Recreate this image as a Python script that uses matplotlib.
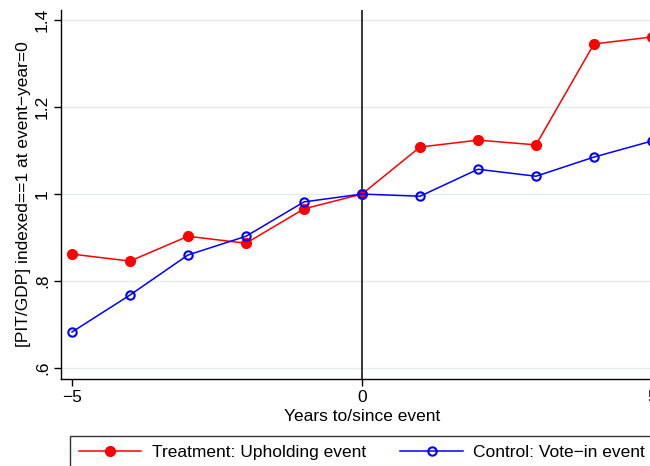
import matplotlib
matplotlib.use("Agg")
import matplotlib.pyplot as plt
from matplotlib.ticker import FixedLocator

years = [-5, -4, -3, -2, -1, 0, 1, 2, 3, 4, 5]
treatment = [0.862, 0.846, 0.903, 0.887, 0.966, 1.0, 1.108, 1.124, 1.113, 1.345, 1.361]
control = [0.683, 0.768, 0.860, 0.903, 0.982, 1.0, 0.995, 1.057, 1.041, 1.085, 1.122]
y_ticks = [0.6, 0.8, 1.0, 1.2, 1.4]
y_tick_labels = [".6", ".8", "1", "1.2", "1.4"]
x_ticks = [-5, 0, 5]

plt.rcParams["font.family"] = ["Liberation Sans", "DejaVu Sans"]
FS = 12.5

fig = plt.figure(figsize=(6.5, 4.66), dpi=100)
ax = fig.add_axes([61 / 650, 87 / 466, 602 / 650, 369 / 466])

for y in y_ticks:
    ax.axhline(y, color="#e3ecef", lw=1.0, zorder=0)
ax.axvline(0, color="black", lw=1.1, zorder=1)

ax.plot(years, treatment, color="red", lw=1.1, marker="o", markersize=7,
        markerfacecolor="red", markeredgecolor="red", label="Treatment: Upholding event",
        clip_on=False, zorder=3)
ax.plot(years, control, color="blue", lw=1.1, marker="o", markersize=6,
        markerfacecolor="none", markeredgecolor="blue", markeredgewidth=1.5,
        label="Control: Vote\u2212in event", clip_on=False, zorder=3)

ax.set_xlim(-5.19, 5.19)
ax.set_ylim(0.575, 1.423)
ax.xaxis.set_major_locator(FixedLocator(x_ticks))
ax.set_xticklabels(["\u22125", "0", "5"])
ax.set_yticks(y_ticks)
ax.set_yticklabels(y_tick_labels, rotation=90, va="center")
ax.tick_params(axis="both", direction="out", length=5, width=1, labelsize=FS, color="black")
ax.tick_params(axis="y", pad=3)
ax.tick_params(axis="x", pad=3)

for side in ["top", "right"]:
    ax.spines[side].set_visible(False)
for side in ["left", "bottom"]:
    ax.spines[side].set_linewidth(1.0)

ax.set_xlabel("Years to/since event", fontsize=FS, labelpad=3)
ax.set_ylabel("[PIT/GDP] indexed==1 at event\u2212year=0", fontsize=FS, labelpad=3)

leg = fig.legend(loc="upper left", bbox_to_anchor=(70 / 650, 1 - 436 / 466), ncol=2,
                 frameon=True, fancybox=False, fontsize=FS, handlelength=3.6,
                 columnspacing=2.0, borderpad=0.5, borderaxespad=0,
                 handletextpad=0.6)
leg.get_frame().set_edgecolor("black")
leg.get_frame().set_linewidth(1.0)

fig.savefig("out.png", dpi=100)
